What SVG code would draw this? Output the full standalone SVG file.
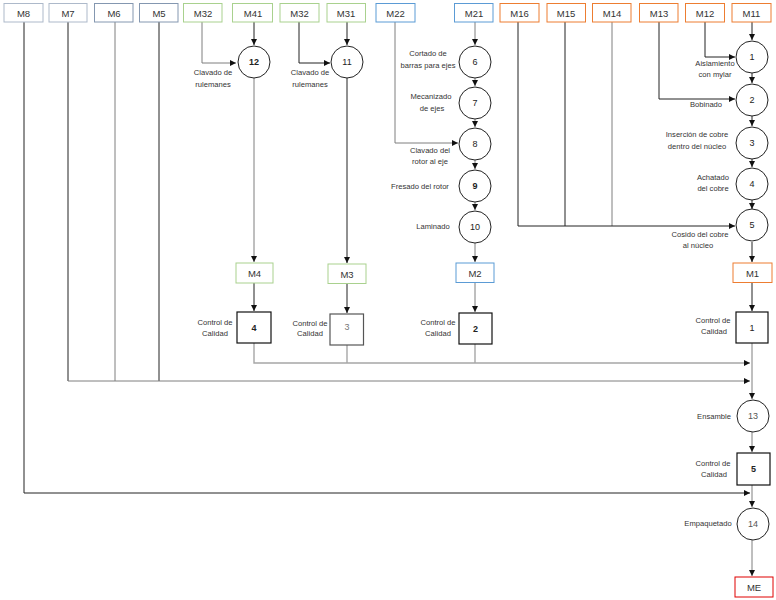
<svg xmlns="http://www.w3.org/2000/svg" width="776" height="600" viewBox="0 0 776 600">
<defs>
<style>
.bx{fill:#fff;stroke-width:1}
.g1{stroke:#adb9ca}.g2{stroke:#8497b0}.gr{stroke:#a9d18e}.bl{stroke:#5b9bd5}.or{stroke:#ed7d31}.rd{stroke:#e00000}
.t{font-family:"Liberation Sans",Arial,sans-serif;font-size:9.5px;fill:#333;text-anchor:middle}
.lb{font-family:"Liberation Sans",Arial,sans-serif;font-size:7.6px;fill:#333;text-anchor:middle}
.n{font-family:"Liberation Sans",Arial,sans-serif;font-size:9px;fill:#222;text-anchor:middle}
.b{font-weight:bold}
.c{fill:#fff;stroke:#222;stroke-width:1}
.q{fill:#fff;stroke:#111;stroke-width:1.2}
.k{fill:none;stroke:#222;stroke-width:1}
.s{fill:none;stroke:#7f7f7f;stroke-width:1}
.h{fill:none;stroke:#a6a6a6;stroke-width:1.4}
</style>
<marker id="a" viewBox="0 0 10 10" refX="10" refY="5" markerWidth="6" markerHeight="6" markerUnits="userSpaceOnUse" orient="auto"><path d="M0,0L10,5L0,10z" fill="#111"/></marker>
</defs>
<g id="connectors">
<path class="k" d="M24,22V493H750" marker-end="url(#a)"/>
<path class="k" d="M68,22V381"/>
<path class="s" d="M115,22V381"/>
<path class="k" d="M159,22V381"/>
<path class="s" d="M68,381H750" marker-end="url(#a)"/>
<path class="s" d="M202,22V63H236" marker-end="url(#a)"/>
<path class="k" d="M254,22V45" marker-end="url(#a)"/>
<path class="s" d="M254,78V262" marker-end="url(#a)"/>
<path class="k" d="M254,283V311" marker-end="url(#a)"/>
<path class="k" d="M299,22V63H330" marker-end="url(#a)"/>
<path class="k" d="M347,22V45" marker-end="url(#a)"/>
<path class="k" d="M347,78V263" marker-end="url(#a)"/>
<path class="k" d="M347,283V313" marker-end="url(#a)"/>
<path class="s" d="M395,22V143H458" marker-end="url(#a)"/>
<path class="s" d="M475,22V45" marker-end="url(#a)"/>
<path class="s" d="M475,78V86" marker-end="url(#a)"/>
<path class="s" d="M475,119V127" marker-end="url(#a)"/>
<path class="s" d="M475,160V169" marker-end="url(#a)"/>
<path class="s" d="M475,202V210" marker-end="url(#a)"/>
<path class="s" d="M475,243V262" marker-end="url(#a)"/>
<path class="s" d="M475,282V312" marker-end="url(#a)"/>
<path class="h" d="M254,343V363H750" marker-end="url(#a)"/>
<path class="h" d="M347,345V363"/>
<path class="h" d="M475,344V363"/>
<path class="k" d="M518,22V226"/>
<path class="k" d="M565,22V226"/>
<path class="s" d="M612,22V226"/>
<path class="k" d="M518,226H735" marker-end="url(#a)"/>
<path class="k" d="M659,22V99H735" marker-end="url(#a)"/>
<path class="k" d="M705,22V57H735" marker-end="url(#a)"/>
<path class="k" d="M752,22V40" marker-end="url(#a)"/>
<path class="k" d="M752,73V83" marker-end="url(#a)"/>
<path class="k" d="M752,116V126" marker-end="url(#a)"/>
<path class="k" d="M752,159V167" marker-end="url(#a)"/>
<path class="k" d="M752,200V209" marker-end="url(#a)"/>
<path class="k" d="M752,242V262" marker-end="url(#a)"/>
<path class="k" d="M752,282V311" marker-end="url(#a)"/>
<path class="s" d="M752,343V399" marker-end="url(#a)"/>
<path class="s" d="M752,432V452" marker-end="url(#a)"/>
<path class="s" d="M752,485V507" marker-end="url(#a)"/>
<path class="s" d="M752,540V576" marker-end="url(#a)"/>
</g>
<g id="M8"><rect class="bx g1" x="4" y="3.5" width="39" height="18.5"/><text class="t" x="23.5" y="16.5">M8</text></g>
<g id="M7"><rect class="bx g1" x="49" y="3.5" width="38" height="18.5"/><text class="t" x="68" y="16.5">M7</text></g>
<g id="M6"><rect class="bx g2" x="94.5" y="3.5" width="38.5" height="18.5"/><text class="t" x="114" y="16.5">M6</text></g>
<g id="M5"><rect class="bx g2" x="139.5" y="3.5" width="38.5" height="18.5"/><text class="t" x="159" y="16.5">M5</text></g>
<g id="M32a"><rect class="bx gr" x="183.5" y="3.5" width="38.5" height="18.5"/><text class="t" x="203" y="16.5">M32</text></g>
<g id="M41"><rect class="bx gr" x="232.5" y="3.5" width="40" height="18.5"/><text class="t" x="253" y="16.5">M41</text></g>
<g id="M32b"><rect class="bx gr" x="280" y="3.5" width="39" height="18.5"/><text class="t" x="299.5" y="16.5">M32</text></g>
<g id="M31"><rect class="bx gr" x="327" y="3.5" width="38.5" height="18.5"/><text class="t" x="346" y="16.5">M31</text></g>
<g id="M22"><rect class="bx bl" x="376" y="3.5" width="39" height="18.5"/><text class="t" x="395.5" y="16.5">M22</text></g>
<g id="M21"><rect class="bx bl" x="454.5" y="3.5" width="38.5" height="18.5"/><text class="t" x="474" y="16.5">M21</text></g>
<g id="M16"><rect class="bx or" x="500" y="3.5" width="39" height="18.5"/><text class="t" x="519.5" y="16.5">M16</text></g>
<g id="M15"><rect class="bx or" x="547" y="3.5" width="38.5" height="18.5"/><text class="t" x="566" y="16.5">M15</text></g>
<g id="M14"><rect class="bx or" x="592.5" y="3.5" width="38.5" height="18.5"/><text class="t" x="612" y="16.5">M14</text></g>
<g id="M13"><rect class="bx or" x="639.5" y="3.5" width="38.5" height="18.5"/><text class="t" x="659" y="16.5">M13</text></g>
<g id="M12"><rect class="bx or" x="685.5" y="3.5" width="39" height="18.5"/><text class="t" x="705" y="16.5">M12</text></g>
<g id="M11"><rect class="bx or" x="732" y="3.5" width="39" height="18.5"/><text class="t" x="751.5" y="16.5">M11</text></g>
<g id="op12"><circle class="c" cx="254" cy="62" r="16"/><text class="n b" x="254" y="65">12</text><text class="lb" x="213" y="75">Clavado de</text><text class="lb" x="213" y="87">rulemanes</text></g>
<g id="op11"><circle class="c" cx="347" cy="62" r="16"/><text class="n" x="347" y="65">11</text><text class="lb" x="310" y="75">Clavado de</text><text class="lb" x="310" y="87">rulemanes</text></g>
<g id="op6"><circle class="c" cx="475" cy="62" r="16"/><text class="n" x="475" y="65">6</text><text class="lb" x="428" y="56">Cortado de</text><text class="lb" x="428" y="68">barras para ejes</text></g>
<g id="op7"><circle class="c" cx="475" cy="103" r="16"/><text class="n" x="475" y="106">7</text><text class="lb" x="431" y="99">Mecanizado</text><text class="lb" x="432" y="111">de ejes</text></g>
<g id="op8"><circle class="c" cx="475" cy="144" r="16"/><text class="n" x="475" y="147">8</text><text class="lb" x="430" y="153">Clavado del</text><text class="lb" x="430" y="164">rotor al eje</text></g>
<g id="op9"><circle class="c" cx="475" cy="186" r="16"/><text class="n b" x="475" y="189">9</text><text class="lb" x="420" y="189">Fresado del rotor</text></g>
<g id="op10"><circle class="c" cx="475" cy="227" r="16"/><text class="n" x="475" y="230">10</text><text class="lb" x="433" y="229">Laminado</text></g>
<g id="op1"><circle class="c" cx="752" cy="57" r="16"/><text class="n" x="752" y="60">1</text><text class="lb" x="715" y="66">Aislamiento</text><text class="lb" x="715" y="77">con mylar</text></g>
<g id="op2"><circle class="c" cx="752" cy="100" r="16"/><text class="n" x="752" y="103">2</text><text class="lb" x="706" y="107">Bobinado</text></g>
<g id="op3"><circle class="c" cx="752" cy="143" r="16"/><text class="n" x="752" y="146">3</text><text class="lb" x="697" y="137">Inserción de cobre</text><text class="lb" x="697" y="149">dentro del núcleo</text></g>
<g id="op4"><circle class="c" cx="752" cy="184" r="16"/><text class="n" x="752" y="187">4</text><text class="lb" x="713" y="180">Achatado</text><text class="lb" x="713" y="191">del cobre</text></g>
<g id="op5"><circle class="c" cx="752" cy="225" r="16"/><text class="n" x="752" y="228">5</text><text class="lb" x="700" y="237">Cosido del cobre</text><text class="lb" x="698" y="248">al núcleo</text></g>
<g id="M4"><rect class="bx gr" x="236" y="263" width="37" height="20"/><text class="t" x="254.5" y="276.5">M4</text></g>
<g id="M3"><rect class="bx gr" x="328" y="264" width="38" height="19.5"/><text class="t" x="347" y="277.5">M3</text></g>
<g id="M2"><rect class="bx bl" x="456" y="263" width="38" height="19.5"/><text class="t" x="475" y="276.5">M2</text></g>
<g id="M1"><rect class="bx or" x="733" y="263" width="39" height="19.5"/><text class="t" x="752.5" y="276.5">M1</text></g>
<g id="cc4"><rect class="q" x="237" y="312" width="34" height="31"/><text class="n b" x="254" y="331">4</text><text class="lb" x="215" y="325">Control de</text><text class="lb" x="215" y="336">Calidad</text></g>
<g id="cc3"><rect class="q" x="330" y="314" width="33.5" height="31" style="stroke:#555"/><text class="n" x="347" y="330" style="fill:#777">3</text><text class="lb" x="310" y="326">Control de</text><text class="lb" x="310" y="336">Calidad</text></g>
<g id="cc2"><rect class="q" x="459" y="313" width="33" height="31"/><text class="n b" x="475.5" y="332">2</text><text class="lb" x="438" y="325">Control de</text><text class="lb" x="438" y="336">Calidad</text></g>
<g id="cc1"><rect class="q" x="736" y="312" width="32" height="31"/><text class="n" x="752" y="331">1</text><text class="lb" x="713" y="323">Control de</text><text class="lb" x="714" y="334">Calidad</text></g>
<g id="op13"><circle class="c" cx="753" cy="416" r="16"/><text class="n" x="753" y="419" style="fill:#555">13</text><text class="lb" x="714" y="419">Ensamble</text></g>
<g id="cc5"><rect class="q" x="737" y="453" width="33" height="32"/><text class="n b" x="753.5" y="472">5</text><text class="lb" x="713" y="466">Control de</text><text class="lb" x="714" y="477">Calidad</text></g>
<g id="op14"><circle class="c" cx="753" cy="524" r="16"/><text class="n" x="753" y="527" style="fill:#555">14</text><text class="lb" x="708" y="526">Empaquetado</text></g>
<g id="ME"><rect class="bx rd" x="735" y="577" width="38" height="20"/><text class="t" x="754" y="590.5">ME</text></g>
</svg>
